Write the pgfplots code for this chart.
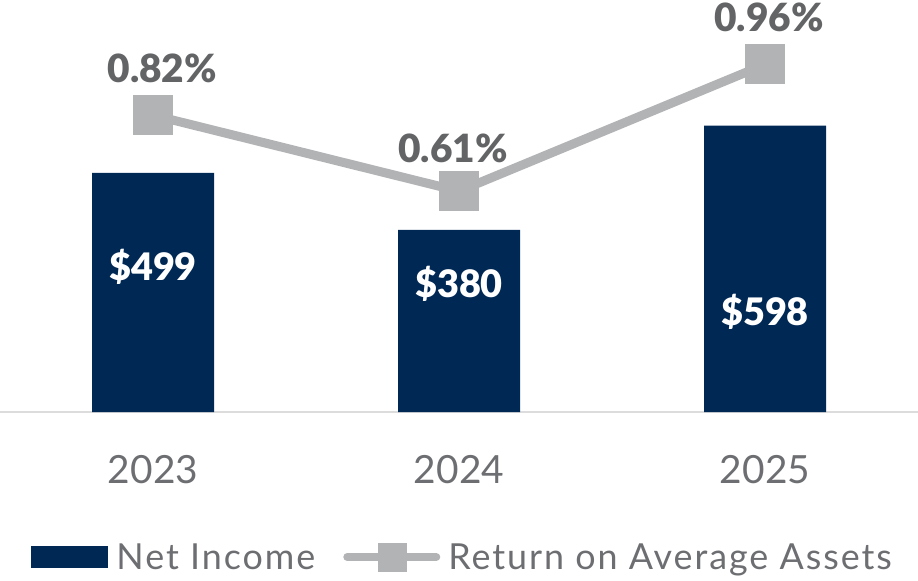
\documentclass[border=0pt]{standalone}
\usepackage{pgfplots}
\pgfplotsset{compat=1.18}
\usepackage{fontspec}
\setmainfont{Lato}
\newfontfamily\heavy{Lato Black}
\definecolor{navy}{HTML}{002855}
\definecolor{lgray}{HTML}{B2B3B5}
\definecolor{lblgray}{HTML}{636466}
\definecolor{tickgray}{HTML}{6D6E71}
\definecolor{axgray}{HTML}{DCDCDC}
\begin{document}
\begin{tikzpicture}
\begin{axis}[
  at={(0,0)}, anchor=south west,
  scale only axis, width=918bp, height=412bp,
  xmin=-0.5, xmax=2.5, ymin=0, ymax=860,
  axis x line=bottom, axis y line=none,
  x axis line style={draw=axgray, line width=2.5bp, -},
  xtick={0,1,2}, xticklabels={2023,2024,2025},
  major tick length=0pt,
  xticklabel style={anchor=base, yshift=-71bp, text=tickgray, font=\fontsize{39}{40}\selectfont},
  clip=false,
  legend style={draw=none, fill=none, at={(0.504,-0.352)}, anchor=center,
    legend columns=2, font=\addfontfeatures{LetterSpace=5.5}\fontsize{36}{37}\selectfont, text=tickgray,
    /tikz/every even column/.append style={column sep=26bp},
    /tikz/every odd column/.append style={column sep=6bp},
    legend cell align=left, inner sep=0pt},
]
\addplot[ybar, fill=navy, draw=none, bar width=122bp,
  legend image code/.code={\fill[navy] (0bp,-11bp) rectangle (77bp,11bp);}]
  coordinates {(0,499) (1,380) (2,598)};
\addlegendentry{Net Income}
\addlegendimage{legend image code/.code={\draw[lgray, line width=8bp, line cap=round] (0bp,0bp) -- (89bp,0bp); \fill[lgray] (30.5bp,-14bp) rectangle (58.5bp,14bp);}}
\addlegendentry{Return on Average Assets}
\node[anchor=base, text=white, font=\heavy\fontsize{38}{39}\selectfont] at (axis cs:0,274) {\$499};
\node[anchor=base, text=white, font=\heavy\fontsize{38}{39}\selectfont] at (axis cs:1,238) {\$380};
\node[anchor=base, text=white, font=\heavy\fontsize{38}{39}\selectfont] at (axis cs:2,180) {\$598};
\end{axis}
\begin{axis}[
  at={(0,0)}, anchor=south west,
  scale only axis, width=918bp, height=412bp,
  xmin=-0.5, xmax=2.5, ymin=0, ymax=1.138,
  axis lines=none, clip=false,
]
\addplot[color=lgray, line width=9bp, mark=square*, mark size=15.5bp,
  mark options={solid, fill=lgray, draw=none}]
  coordinates {(0,0.82) (1,0.61) (2,0.96)};
\node[anchor=base, text=lblgray, font=\heavy\fontsize{39}{40}\selectfont] at (axis cs:0.03,0.909) {0.82\%};
\node[anchor=base, text=lblgray, font=\heavy\fontsize{39}{40}\selectfont] at (axis cs:0.98,0.690) {0.61\%};
\node[anchor=base, text=lblgray, font=\heavy\fontsize{39}{40}\selectfont] at (axis cs:2.013,1.050) {0.96\%};
\end{axis}
\pgfresetboundingbox
\useasboundingbox (0,-169bp) rectangle (918bp,412bp);
\end{tikzpicture}
\end{document}
